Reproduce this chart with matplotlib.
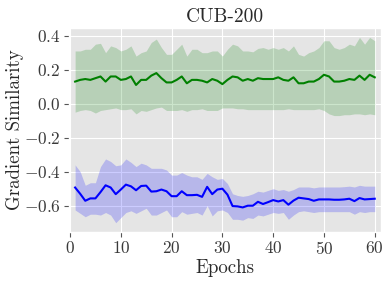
import matplotlib
matplotlib.use("Agg")
import matplotlib.pyplot as plt
import numpy as np

epochs = np.arange(1, 61)

green_mean = [0.13, 0.14, 0.145, 0.14, 0.15, 0.16, 0.13, 0.16, 0.16, 0.14,
              0.145, 0.16, 0.11, 0.14, 0.14, 0.165, 0.18, 0.15, 0.125, 0.125,
              0.14, 0.16, 0.12, 0.14, 0.14, 0.135, 0.125, 0.145, 0.135, 0.115,
              0.14, 0.16, 0.155, 0.135, 0.145, 0.135, 0.15, 0.145, 0.145, 0.145,
              0.155, 0.14, 0.135, 0.155, 0.12, 0.12, 0.13, 0.13, 0.145, 0.17,
              0.16, 0.13, 0.13, 0.135, 0.145, 0.14, 0.165, 0.14, 0.17, 0.155]
green_upper = [0.31, 0.31, 0.32, 0.32, 0.35, 0.355, 0.30, 0.34, 0.33, 0.31,
               0.32, 0.34, 0.28, 0.30, 0.31, 0.36, 0.38, 0.33, 0.29, 0.29,
               0.32, 0.35, 0.28, 0.32, 0.32, 0.30, 0.30, 0.31, 0.31, 0.28,
               0.32, 0.35, 0.34, 0.31, 0.31, 0.305, 0.325, 0.33, 0.32, 0.33,
               0.32, 0.33, 0.31, 0.34, 0.29, 0.28, 0.30, 0.31, 0.33, 0.37,
               0.37, 0.33, 0.32, 0.33, 0.35, 0.34, 0.39, 0.35, 0.39, 0.37]
green_lower = [-0.05, -0.04, -0.035, -0.04, -0.055, -0.04, -0.035, -0.03, -0.025, -0.035,
               -0.035, -0.03, -0.06, -0.04, -0.045, -0.035, -0.025, -0.02, -0.04, -0.04,
               -0.04, -0.035, -0.045, -0.035, -0.035, -0.03, -0.04, -0.04, -0.04, -0.025,
               -0.025, -0.025, -0.03, -0.03, -0.035, -0.035, -0.035, -0.035, -0.035, -0.035,
               -0.035, -0.035, -0.03, -0.035, -0.035, -0.035, -0.035, -0.035, -0.03, -0.04,
               -0.06, -0.07, -0.07, -0.065, -0.065, -0.06, -0.06, -0.065, -0.06, -0.065]

blue_mean = [-0.493, -0.53, -0.571, -0.557, -0.557, -0.52, -0.48, -0.493, -0.532, -0.505,
             -0.476, -0.486, -0.509, -0.484, -0.482, -0.517, -0.515, -0.505, -0.515, -0.544,
             -0.544, -0.515, -0.538, -0.538, -0.536, -0.548, -0.489, -0.532, -0.505, -0.50,
             -0.535, -0.602, -0.604, -0.61, -0.60, -0.60, -0.577, -0.59, -0.579, -0.567,
             -0.575, -0.567, -0.594, -0.57, -0.553, -0.557, -0.561, -0.571, -0.563, -0.563,
             -0.563, -0.565, -0.565, -0.563, -0.559, -0.573, -0.555, -0.563, -0.561, -0.559]
blue_upper = [-0.36, -0.40, -0.48, -0.465, -0.465, -0.37, -0.325, -0.34, -0.365, -0.36,
              -0.325, -0.345, -0.37, -0.35, -0.36, -0.38, -0.38, -0.38, -0.39, -0.42,
              -0.42, -0.405, -0.42, -0.43, -0.43, -0.445, -0.41, -0.43, -0.445, -0.44,
              -0.47, -0.53, -0.54, -0.545, -0.54, -0.53, -0.515, -0.52, -0.51, -0.50,
              -0.51, -0.505, -0.515, -0.505, -0.49, -0.49, -0.49, -0.495, -0.49, -0.49,
              -0.49, -0.49, -0.49, -0.488, -0.485, -0.49, -0.48, -0.485, -0.485, -0.485]
blue_lower = [-0.625, -0.645, -0.665, -0.65, -0.65, -0.655, -0.64, -0.655, -0.70, -0.67,
              -0.64, -0.63, -0.645, -0.63, -0.615, -0.655, -0.655, -0.64, -0.625, -0.665,
              -0.665, -0.635, -0.65, -0.645, -0.64, -0.655, -0.60, -0.66, -0.63, -0.625,
              -0.64, -0.68, -0.68, -0.685, -0.67, -0.675, -0.655, -0.66, -0.65, -0.64,
              -0.645, -0.64, -0.68, -0.655, -0.635, -0.63, -0.635, -0.64, -0.635, -0.635,
              -0.635, -0.635, -0.635, -0.635, -0.635, -0.65, -0.635, -0.64, -0.635, -0.635]

plt.style.use("ggplot")
plt.rcParams["font.family"] = "serif"
plt.rcParams["font.serif"] = ["cmr10", "DejaVu Serif"]
plt.rcParams["mathtext.fontset"] = "cm"
plt.rcParams["axes.formatter.use_mathtext"] = True
plt.rcParams["axes.unicode_minus"] = True

fig = plt.figure(figsize=(3.91, 2.83), dpi=100)
ax = fig.add_axes([0.1765, 0.180, 0.7975, 0.721])

ax.fill_between(epochs, green_lower, green_upper, color="green", alpha=0.2, linewidth=0)
ax.plot(epochs, green_mean, color="green", linewidth=1.5)
ax.fill_between(epochs, blue_lower, blue_upper, color="blue", alpha=0.2, linewidth=0)
ax.plot(epochs, blue_mean, color="blue", linewidth=1.5)

ax.set_xlim(-0.2, 61.2)
ax.set_ylim(-0.755, 0.445)
ax.set_xticks([0, 10, 20, 30, 40, 50, 60])
ax.set_yticks([-0.6, -0.4, -0.2, 0.0, 0.2, 0.4])
ax.yaxis.set_major_formatter(matplotlib.ticker.FuncFormatter(lambda v, p: f"${v:.1f}$"))
ax.tick_params(labelsize=12.5, colors="#555555", labelcolor="#3a3a3a", pad=2.5)
ax.set_xlabel("Epochs", fontsize=13.6, color="#2a2a2a", labelpad=1)
ax.set_ylabel("Gradient Similarity", fontsize=13.6, color="#2a2a2a", labelpad=0)
ax.set_title("CUB-200", fontsize=14, color="#2a2a2a", pad=4)

fig.savefig("out.png", dpi=100)
